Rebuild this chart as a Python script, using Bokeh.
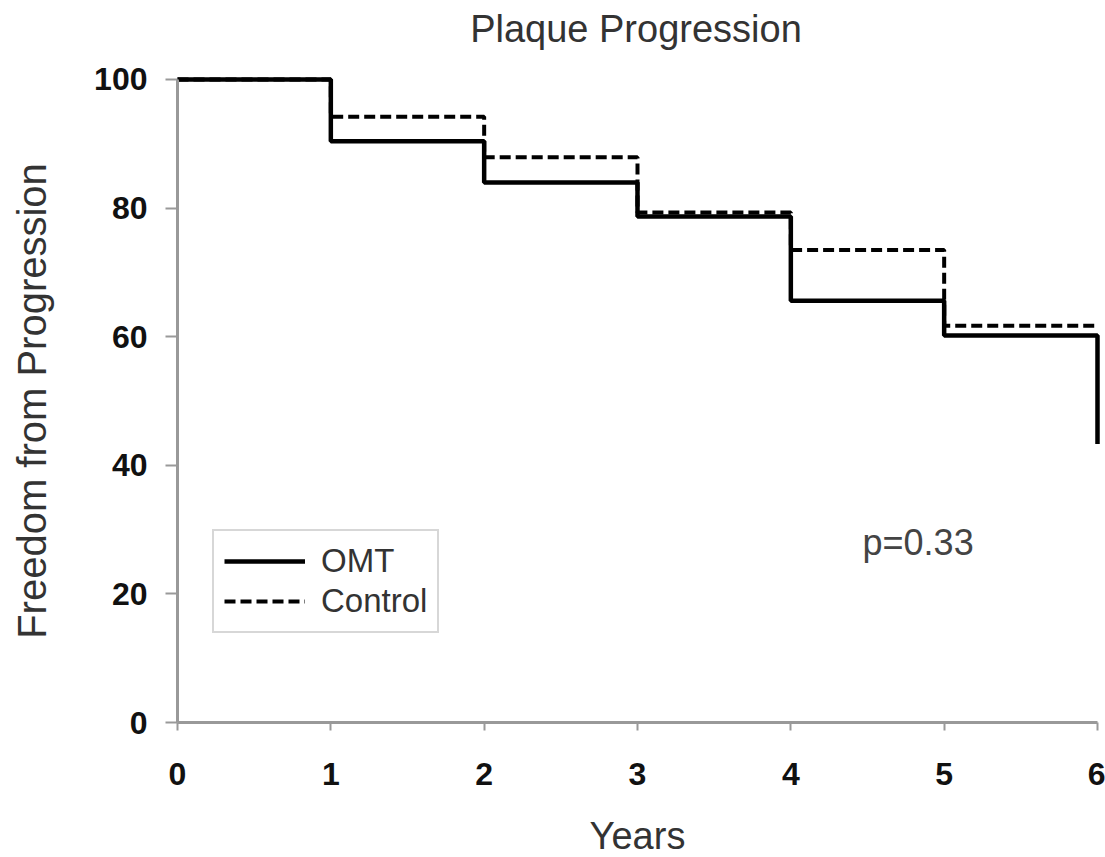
from bokeh.plotting import figure
from bokeh.models import Range1d, Legend, LegendItem, Label, FixedTicker
from bokeh.embed import file_html
from bokeh.resources import INLINE

years = [0, 1, 2, 3, 4, 5, 6]
omt = [100, 90.4, 84.0, 78.7, 65.6, 60.2, 43.3]
control = [100, 94.2, 87.9, 79.3, 73.5, 61.7, 61.7]
x_ticks = [0, 1, 2, 3, 4, 5, 6]
y_ticks = [0, 20, 40, 60, 80, 100]
title_text = "Plaque Progression"

FONT = "Liberation Sans"

p = figure(width=1105, height=857, output_backend="svg", toolbar_location=None,
           title=None,
           x_range=Range1d(-1.1543, 6.0522), y_range=Range1d(-20.995, 112.286),
           min_border=0)
p.outline_line_color = None
p.grid.visible = False
p.background_fill_color = "white"
p.border_fill_color = "white"

r_omt = p.step(years, omt, mode="after", line_color="black", line_width=4.5)
r_ctl = p.step(years, control, mode="after", line_color="black", line_width=4,
               line_dash="11 5")

for ax in (p.xaxis[0], p.yaxis[0]):
    ax.fixed_location = 0
    ax.axis_line_color = "#999999"
    ax.axis_line_width = 3
    ax.major_tick_line_color = "#999999"
    ax.major_tick_line_width = 2
    ax.minor_tick_line_color = None
    ax.major_tick_in = 0
    ax.major_label_text_font = FONT
    ax.major_label_text_font_size = "32px"
    ax.major_label_text_font_style = "bold"
    ax.major_label_text_color = "#111111"
    ax.axis_label_text_font = FONT
    ax.axis_label_text_font_style = "normal"
    ax.axis_label_text_color = "#333333"

p.xaxis.ticker = FixedTicker(ticks=x_ticks)
p.yaxis.ticker = FixedTicker(ticks=y_ticks)
p.xaxis.bounds = (0, 6)
p.yaxis.bounds = (0, 100)
p.xaxis.major_tick_out = 8
p.yaxis.major_tick_out = 12
p.xaxis.major_label_standoff = 32
p.yaxis.major_label_standoff = 18
p.xaxis.axis_label = "Years"
p.yaxis.axis_label = "Freedom from Progression"
p.xaxis.axis_label_text_font_size = "38px"
p.yaxis.axis_label_text_font_size = "40px"
p.xaxis.axis_label_standoff = 27
p.yaxis.axis_label_standoff = 37

legend = Legend(items=[LegendItem(label="OMT", renderers=[r_omt]),
                       LegendItem(label="Control", renderers=[r_ctl])],
                location=(212, 857 - 633))
legend.border_line_color = "#b0b0b0"
legend.border_line_width = 2
legend.background_fill_color = "white"
legend.background_fill_alpha = 1
legend.label_text_font = FONT
legend.label_text_font_size = "33px"
legend.label_text_color = "#333333"
legend.glyph_width = 81
legend.glyph_height = 40
legend.label_height = 40
legend.label_standoff = 16
legend.padding = 10
legend.spacing = 0
legend.margin = 0
p.add_layout(legend, "center")

p.add_layout(Label(x=4.83, y=28, text="p=0.33", text_align="center", text_baseline="middle",
                   text_font=FONT, text_font_size="36px", text_color="#444444"))

p.add_layout(Label(x=2.99, y=107.9, text=title_text, text_align="center", text_baseline="middle",
                   text_font=FONT, text_font_size="38px", text_color="#333333"))

open("out.html", "w").write(file_html(p, INLINE))
